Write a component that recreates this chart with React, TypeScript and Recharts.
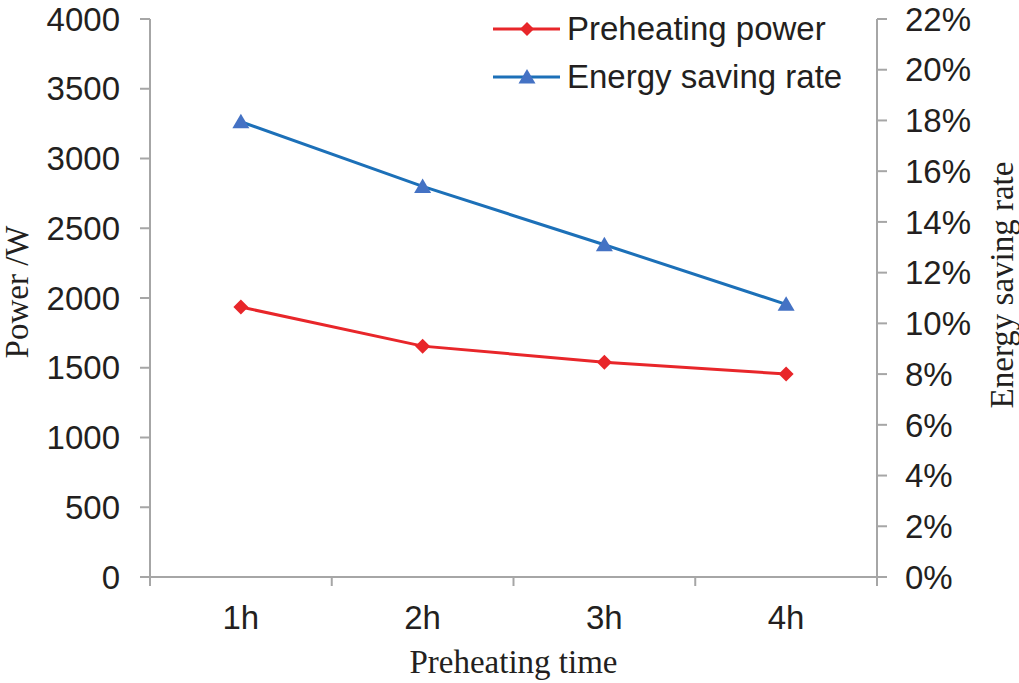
import React from 'react';
import { LineChart, Line, XAxis, YAxis } from 'recharts';

const categories = ['1h', '2h', '3h', '4h'];
const preheatingPower = [1935, 1655, 1540, 1455];
const energySavingRate = [17.95, 15.4, 13.1, 10.75];
const powerTicks = [0, 500, 1000, 1500, 2000, 2500, 3000, 3500, 4000];
const rateTicks = [0, 2, 4, 6, 8, 10, 12, 14, 16, 18, 20, 22];
const seriesNames = ['Preheating power', 'Energy saving rate'];

const data = categories.map((c, i) => ({
  time: c,
  power: preheatingPower[i],
  rate: energySavingRate[i],
}));

const AXIS = '#a6a6a6';
const TEXT = '#231f20';
const RED = '#e8262a';
const BLUE_LINE = '#1c70b8';
const BLUE_MARK = '#4472c4';
const SANS = '"Liberation Sans", Arial, sans-serif';
const SERIF = '"Liberation Serif", "Times New Roman", serif';
const SANS_SIZE = 33;
const SERIF_SIZE = 33;

const Diamond = (props: any) => {
  const { cx, cy } = props;
  if (cx == null || cy == null) return null;
  const r = 7.5;
  return <path d={`M${cx},${cy - r}L${cx + r},${cy}L${cx},${cy + r}L${cx - r},${cy}Z`} fill={RED} />;
};

const Triangle = (props: any) => {
  const { cx, cy } = props;
  if (cx == null || cy == null) return null;
  return <path d={`M${cx},${cy - 8}L${cx + 8.5},${cy + 6.5}L${cx - 8.5},${cy + 6.5}Z`} fill={BLUE_MARK} />;
};

const XTick = (props: any) => {
  const { x, y, payload, index, visibleTicksCount } = props;
  const off = payload?.offset ?? 0;
  return (
    <g>
      <line x1={x - off} x2={x - off} y1={y} y2={y + 9} stroke={AXIS} strokeWidth={2} />
      {index === visibleTicksCount - 1 && (
        <line x1={x + off} x2={x + off} y1={y} y2={y + 9} stroke={AXIS} strokeWidth={2} />
      )}
      <text x={x} y={y + 52} textAnchor="middle" fill={TEXT} fontSize={SANS_SIZE} fontFamily={SANS}>
        {payload.value}
      </text>
    </g>
  );
};

const LegendBox = () => {
  const items = [
    { label: seriesNames[0], color: RED, mark: 'diamond' },
    { label: seriesNames[1], color: BLUE_LINE, mark: 'triangle' },
  ];
  return (
    <div style={{ position: 'absolute', left: 493, top: 5, width: 420 }}>
      {items.map((it) => (
        <div key={it.label} style={{ display: 'flex', alignItems: 'center', height: 48 }}>
          <svg width={70} height={20} style={{ display: 'block' }}>
            <line x1={0} x2={67} y1={10} y2={10} stroke={it.color} strokeWidth={3} />
            {it.mark === 'diamond' ? (
              <path d="M34,3L41,10L34,17L27,10Z" fill={RED} />
            ) : (
              <path d="M34,2L42.5,16.5L25.5,16.5Z" fill={BLUE_MARK} />
            )}
          </svg>
          <span style={{ fontFamily: SANS, fontSize: SANS_SIZE, color: TEXT, marginLeft: 4, lineHeight: '48px', whiteSpace: 'nowrap' }}>
            {it.label}
          </span>
        </div>
      ))}
    </div>
  );
};

export default function App() {
  return (
    <div style={{ position: 'absolute', left: 0, top: 0, width: 1019, height: 683, background: '#fff' }}>
      <LineChart width={1019} height={683} data={data} margin={{ top: 19, right: 0, left: 0, bottom: 0 }}>
        <XAxis
          dataKey="time"
          scale="band"
          height={106}
          axisLine={{ stroke: AXIS, strokeWidth: 2 }}
          tickLine={false}
          tickSize={0}
          tickMargin={0}
          tick={<XTick />}
          interval={0}
          label={{
            content: (p: any) => {
              const vb = p.viewBox;
              return (
                <text x={vb.x + vb.width / 2} y={vb.y + 96} textAnchor="middle" fill={TEXT} fontSize={SERIF_SIZE} fontFamily={SERIF}>
                  Preheating time
                </text>
              );
            },
          }}
        />
        <YAxis
          yAxisId="left"
          width={150}
          domain={[0, 4000]}
          ticks={powerTicks}
          interval={0}
          axisLine={{ stroke: AXIS, strokeWidth: 2 }}
          tickLine={{ stroke: AXIS, strokeWidth: 2 }}
          tickSize={10}
          tickMargin={20}
          tick={{ fill: TEXT, fontSize: SANS_SIZE, fontFamily: SANS }}
          label={{
            content: (p: any) => {
              const vb = p.viewBox;
              const cx = 28;
              const cy = vb.y + vb.height / 2 - 6;
              return (
                <text x={cx} y={cy} transform={`rotate(-90 ${cx} ${cy})`} textAnchor="middle" fill={TEXT} fontSize={SERIF_SIZE} fontFamily={SERIF}>
                  Power /W
                </text>
              );
            },
          }}
        />
        <YAxis
          yAxisId="right"
          orientation="right"
          width={142}
          domain={[0, 22]}
          ticks={rateTicks}
          interval={0}
          tickFormatter={(v: number) => `${v}%`}
          axisLine={{ stroke: AXIS, strokeWidth: 2 }}
          tickLine={{ stroke: AXIS, strokeWidth: 2 }}
          tickSize={10}
          tickMargin={18}
          tick={{ fill: TEXT, fontSize: SANS_SIZE, fontFamily: SANS, textAnchor: 'start' }}
          label={{
            content: (p: any) => {
              const vb = p.viewBox;
              const cx = vb.x + 136;
              const cy = vb.y + vb.height / 2 - 13;
              return (
                <text x={cx} y={cy} transform={`rotate(-90 ${cx} ${cy})`} textAnchor="middle" fill={TEXT} fontSize={SERIF_SIZE} fontFamily={SERIF}>
                  Energy saving rate
                </text>
              );
            },
          }}
        />
        <Line
          yAxisId="left"
          type="linear"
          dataKey="power"
          name={seriesNames[0]}
          stroke={RED}
          strokeWidth={3}
          dot={<Diamond />}
          activeDot={false}
          isAnimationActive={false}
        />
        <Line
          yAxisId="right"
          type="linear"
          dataKey="rate"
          name={seriesNames[1]}
          stroke={BLUE_LINE}
          strokeWidth={3}
          dot={<Triangle />}
          activeDot={false}
          isAnimationActive={false}
        />
      </LineChart>
      <LegendBox />
    </div>
  );
}
